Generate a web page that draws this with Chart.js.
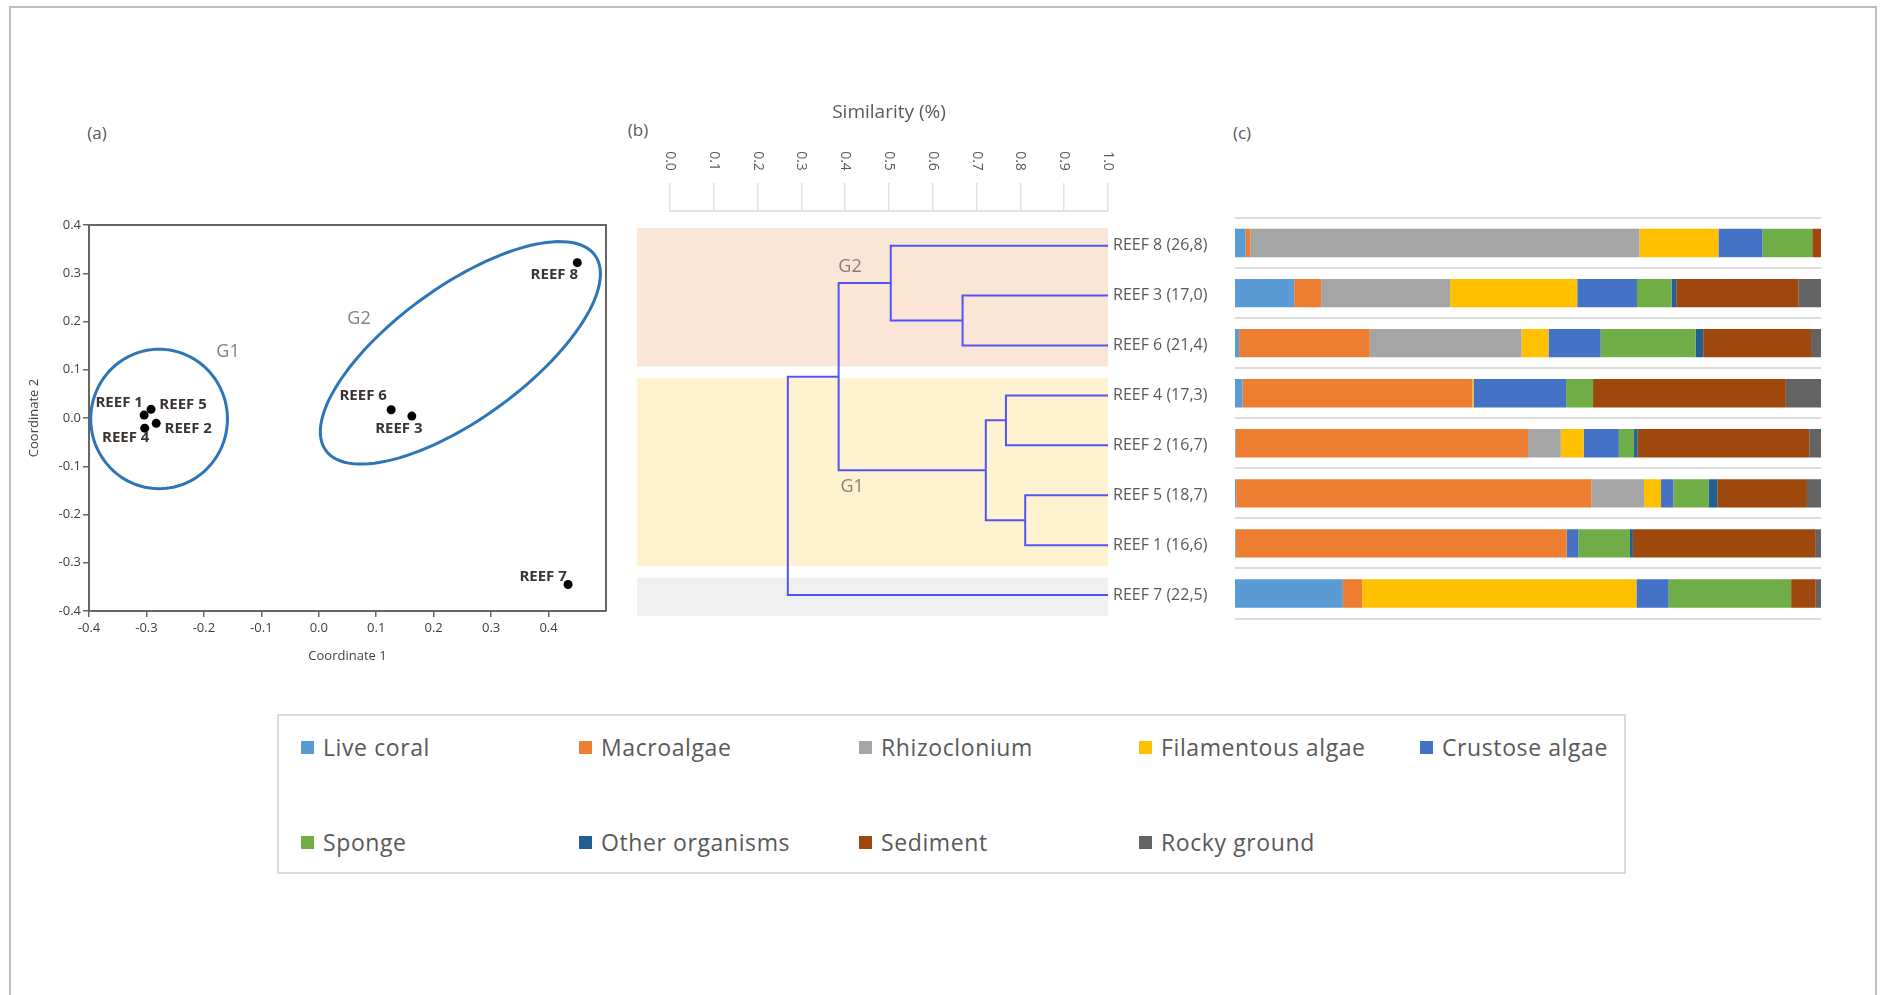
<!DOCTYPE html>
<html>
<head>
<meta charset="utf-8">
<title>Reef ordination, clustering and benthic cover</title>
<script src="https://cdn.jsdelivr.net/npm/chart.js"></script>
<style>
  html, body { margin: 0; padding: 0; background: #fff; }
  body { width: 1882px; height: 995px; position: relative; overflow: hidden; font-family: 'Open Sans', sans-serif; }
  #frame { position: absolute; left: 9px; top: 6px; width: 1864px; height: 1000px; border: 2px solid #bdbdbd; border-bottom: none; }
  canvas { position: absolute; }
  .tag { position: absolute; font-size: 17px; color: #595959; transform: translate(-50%, -50%); }
  #legend { position: absolute; left: 277px; top: 714px; width: 1345px; height: 156px; border: 2px solid #dadada; }
  .item { position: absolute; display: flex; align-items: center; font-size: 23px; letter-spacing: 0.6px; color: #595959; transform: translateY(-50%); white-space: nowrap; }
  .item i { display: inline-block; width: 13px; height: 13px; margin-right: 9px; }
</style>
</head>
<body>
<div id="frame"></div>
<div class="tag" style="left:97px; top:132px;">(a)</div>
<div class="tag" style="left:638px; top:129px;">(b)</div>
<div class="tag" style="left:1242px; top:132px;">(c)</div>

<canvas id="pcoa" width="600" height="460" style="left:20px; top:215px;"></canvas>
<canvas id="dendro" width="610" height="540" style="left:620px; top:90px;"></canvas>
<canvas id="cover" width="640" height="440" style="left:1230px; top:200px;"></canvas>
<div id="legend"></div>

<script>
Chart.defaults.font.family = "'Open Sans', sans-serif";
Chart.defaults.color = '#595959';
Chart.defaults.animation = false;

// ---- (a) PCoA ----
const reefNames = ['REEF 1', 'REEF 2', 'REEF 3', 'REEF 4', 'REEF 5', 'REEF 6', 'REEF 7', 'REEF 8'];
const coord1 = [-0.304, -0.283, 0.162, -0.303, -0.292, 0.126, 0.434, 0.450];
const coord2 = [0.006, -0.011, 0.004, -0.021, 0.018, 0.017, -0.345, 0.322];

// label offsets from each point (px)
const labelDx = [-25, 32, -13, -19, 32, -28, -25, -23];
const labelDy = [-12, 5, 13, 10, -5, -14, -8, 12];

// group ellipses: centre + two semi-axis vectors, in data units
const groupEllipses = [
  { name: 'G1', cx: -0.278, cy: -0.002, u: [0.119, 0], v: [0, 0.1445], tx: -0.158, ty: 0.137 },
  { name: 'G2', cx: 0.2465, cy: 0.135, u: [0.2342, 0.2023], v: [0.0677, -0.1107], tx: 0.070, ty: 0.205 }
];

const fmt1 = v => (Math.abs(v) < 1e-9 ? 0 : v).toFixed(1);

const ordinationDecor = {
  id: 'ordinationDecor',
  afterDatasetsDraw(chart) {
    const { ctx, chartArea: a, scales: { x, y } } = chart;
    ctx.save();
    // close the box on top and right
    ctx.strokeStyle = '#666';
    ctx.lineWidth = 2;
    ctx.beginPath();
    ctx.moveTo(a.left, a.top);
    ctx.lineTo(a.right, a.top);
    ctx.lineTo(a.right, a.bottom);
    ctx.stroke();

    ctx.strokeStyle = '#2e75b6';
    ctx.lineWidth = 3;
    groupEllipses.forEach(e => {
      ctx.beginPath();
      for (let k = 0; k <= 120; k++) {
        const t = k / 120 * Math.PI * 2;
        const px = x.getPixelForValue(e.cx + Math.cos(t) * e.u[0] + Math.sin(t) * e.v[0]);
        const py = y.getPixelForValue(e.cy + Math.cos(t) * e.u[1] + Math.sin(t) * e.v[1]);
        if (k === 0) ctx.moveTo(px, py); else ctx.lineTo(px, py);
      }
      ctx.stroke();
    });

    ctx.textAlign = 'center';
    ctx.textBaseline = 'middle';
    ctx.fillStyle = '#8b7e74';
    ctx.font = "18px 'Open Sans'";
    groupEllipses.forEach(e => {
      ctx.fillText(e.name, x.getPixelForValue(e.tx), y.getPixelForValue(e.ty));
    });

    ctx.fillStyle = '#3b3531';
    ctx.font = "bold 15px 'Open Sans'";
    reefNames.forEach((n, i) => {
      ctx.fillText(n, x.getPixelForValue(coord1[i]) + labelDx[i], y.getPixelForValue(coord2[i]) + labelDy[i]);
    });
    ctx.restore();
  }
};

new Chart(document.getElementById('pcoa'), {
  type: 'scatter',
  data: {
    datasets: [{
      data: reefNames.map((n, i) => ({ x: coord1[i], y: coord2[i] })),
      pointRadius: 4.5,
      pointHoverRadius: 4.5,
      backgroundColor: '#000',
      borderWidth: 0
    }]
  },
  options: {
    responsive: false,
    layout: { padding: { top: 10, right: 14, left: 0, bottom: 0 } },
    plugins: { legend: { display: false }, tooltip: { enabled: false } },
    scales: {
      x: {
        type: 'linear', min: -0.4, max: 0.5,
        ticks: { stepSize: 0.1, padding: 3, color: '#404040', font: { size: 13 }, callback: fmt1 },
        afterBuildTicks: s => { s.ticks = s.ticks.filter(t => t.value < 0.45); },
        afterFit: s => { s.height = 64; },
        grid: { drawOnChartArea: false, tickLength: 6, color: '#666', lineWidth: 1.5 },
        border: { color: '#666', width: 2 },
        title: { display: true, text: 'Coordinate 1', color: '#404040', font: { size: 13 }, padding: { top: 0, bottom: 11 } }
      },
      y: {
        type: 'linear', min: -0.4, max: 0.4,
        ticks: { stepSize: 0.1, padding: 2, color: '#404040', font: { size: 13 }, callback: fmt1 },
        afterFit: s => { s.width = 69; },
        grid: { drawOnChartArea: false, tickLength: 6, color: '#666', lineWidth: 1.5 },
        border: { color: '#666', width: 2 },
        title: { display: true, text: 'Coordinate 2', color: '#404040', font: { size: 13 }, padding: { top: 6, bottom: 0 } }
      }
    }
  },
  plugins: [ordinationDecor]
});

// ---- (b) cluster dendrogram ----
const leafLabels = ['REEF 8 (26,8)', 'REEF 3 (17,0)', 'REEF 6 (21,4)', 'REEF 4 (17,3)',
                    'REEF 2 (16,7)', 'REEF 5 (18,7)', 'REEF 1 (16,6)', 'REEF 7 (22,5)'];
// joins: ids 0-7 are leaves, 8+ are the clusters formed in this order
const joinA = [1, 0, 3, 5, 10, 9, 13];
const joinB = [2, 8, 4, 6, 11, 12, 7];
const joinSim = [0.668, 0.504, 0.767, 0.811, 0.721, 0.385, 0.269];

const groupBands = [
  { name: 'G2', first: 0, last: 2, color: '#fbe5d7', tx: 0.411, ty: 0.42 },
  { name: 'G1', first: 3, last: 6, color: '#fff2d0', tx: 0.416, ty: 4.83 },
  { name: '', first: 7, last: 7, color: '#f0f0f0' }
];

const nodeX = leafLabels.map(() => 1);
const nodeY = leafLabels.map((_, i) => i);
const treePts = [];
joinSim.forEach((s, m) => {
  const a = joinA[m], b = joinB[m];
  treePts.push({ x: nodeX[a], y: nodeY[a] }, { x: s, y: nodeY[a] },
               { x: s, y: nodeY[b] }, { x: nodeX[b], y: nodeY[b] }, { x: null, y: null });
  nodeX.push(s);
  nodeY.push((nodeY[a] + nodeY[b]) / 2);
});

const dendroDecor = {
  id: 'dendroDecor',
  beforeDatasetsDraw(chart) {
    const { ctx, scales: { x, y } } = chart;
    ctx.save();
    groupBands.forEach(g => {
      const x0 = x.getPixelForValue(-0.075), x1 = x.getPixelForValue(1);
      const y0 = y.getPixelForValue(g.first - 0.35), y1 = y.getPixelForValue(g.last + 0.42);
      ctx.fillStyle = g.color;
      ctx.fillRect(x0, y0, x1 - x0, y1 - y0);
    });
    ctx.restore();
  },
  afterDraw(chart) {
    const { ctx, scales: { x, y } } = chart;
    ctx.save();
    // similarity ticks, rotated to read downwards
    ctx.fillStyle = '#595959';
    ctx.font = "14px 'Open Sans'";
    ctx.textAlign = 'center';
    ctx.textBaseline = 'middle';
    x.ticks.forEach((t, i) => {
      ctx.save();
      ctx.translate(x.getPixelForTick(i), 71);
      ctx.rotate(Math.PI / 2);
      ctx.fillText(fmt1(t.value), 0, 0);
      ctx.restore();
    });
    ctx.fillStyle = '#8b7e74';
    ctx.font = "18px 'Open Sans'";
    groupBands.filter(g => g.name).forEach(g => {
      ctx.fillText(g.name, x.getPixelForValue(g.tx), y.getPixelForValue(g.ty));
    });
    ctx.restore();
  }
};

new Chart(document.getElementById('dendro'), {
  type: 'scatter',
  data: {
    datasets: [{
      data: treePts,
      showLine: true,
      spanGaps: false,
      borderColor: '#5454f5',
      borderWidth: 2,
      pointRadius: 0,
      pointHoverRadius: 0
    }]
  },
  options: {
    responsive: false,
    layout: { padding: { top: 0, right: 0, left: 50, bottom: 10 } },
    plugins: { legend: { display: false }, tooltip: { enabled: false } },
    scales: {
      x: {
        type: 'linear', position: 'top', min: 0, max: 1,
        ticks: { stepSize: 0.1, display: false },
        afterFit: s => { s.height = 121; },
        grid: { drawOnChartArea: false, tickLength: 28, color: '#e2e2e2', lineWidth: 1.5 },
        border: { color: '#e2e2e2', width: 2 },
        title: { display: true, text: 'Similarity (%)', color: '#595959', font: { size: 19 }, padding: { top: 11, bottom: 0 } }
      },
      y: {
        type: 'linear', position: 'right', min: -0.695, max: 7.5, reverse: true,
        afterBuildTicks: s => { s.ticks = leafLabels.map((_, i) => ({ value: i })); },
        afterFit: s => { s.width = 122; s.paddingTop = 0; s.paddingBottom = 0; },
        ticks: { autoSkip: false, padding: 5, color: '#595959', font: { size: 16 }, callback: v => leafLabels[v] },
        grid: { display: false, drawTicks: false },
        border: { display: false }
      }
    }
  },
  plugins: [dendroDecor]
});

// ---- (c) benthic cover (%) per reef, same order as the dendrogram ----
const reefOrder = ['REEF 8', 'REEF 3', 'REEF 6', 'REEF 4', 'REEF 2', 'REEF 5', 'REEF 1', 'REEF 7'];
const coverTypes = ['Live coral', 'Macroalgae', 'Rhizoclonium', 'Filamentous algae', 'Crustose algae',
                    'Sponge', 'Other organisms', 'Sediment', 'Rocky ground'];
const coverColors = ['#5b9bd5', '#ed7d31', '#a5a5a5', '#ffc000', '#4472c4',
                     '#70ad47', '#255e91', '#9e480e', '#636363'];
const liveCoral    = [1.8, 10.1, 0.7, 1.3, 0.1, 0.2, 0.1, 18.4];
const macroalgae   = [0.8, 4.6, 22.3, 39.2, 49.9, 60.6, 56.5, 3.3];
const rhizoclonium = [66.4, 22.0, 25.9, 0, 5.6, 9.0, 0, 0];
const filamentous  = [13.5, 21.7, 4.6, 0.2, 3.9, 2.9, 0, 46.8];
const crustose     = [7.5, 10.2, 8.9, 15.8, 6.0, 2.1, 2.0, 5.5];
const sponge       = [8.5, 5.9, 16.2, 4.6, 2.6, 6.0, 8.8, 20.9];
const otherOrg     = [0, 0.8, 1.3, 0, 0.6, 1.5, 0.5, 0];
const sediment     = [1.5, 20.9, 18.4, 32.9, 29.3, 15.3, 31.1, 4.2];
const rockyGround  = [0, 3.8, 1.7, 6.0, 2.0, 2.4, 1.0, 0.9];
const coverSeries = [liveCoral, macroalgae, rhizoclonium, filamentous, crustose, sponge, otherOrg, sediment, rockyGround];

new Chart(document.getElementById('cover'), {
  type: 'bar',
  data: {
    labels: reefOrder,
    datasets: coverTypes.map((name, i) => ({
      label: name,
      data: coverSeries[i],
      backgroundColor: coverColors[i],
      borderWidth: 0,
      barPercentage: 0.566,
      categoryPercentage: 1
    }))
  },
  options: {
    indexAxis: 'y',
    responsive: false,
    layout: { padding: { top: 18, right: 49, left: 5, bottom: 21.5 } },
    plugins: { legend: { display: false }, tooltip: { enabled: false } },
    scales: {
      x: { stacked: true, min: 0, max: 100, display: false },
      y: {
        stacked: true,
        afterFit: s => { s.width = 0; },
        ticks: { display: false },
        grid: { offset: true, drawTicks: false, color: '#dcdcdc', lineWidth: 2 },
        border: { display: false }
      }
    }
  }
});

// shared legend under the panels
const legend = document.getElementById('legend');
const legendCols = [22, 300, 580, 860, 1141];
const legendRows = [31, 126];
coverTypes.forEach((name, i) => {
  const el = document.createElement('div');
  el.className = 'item';
  el.style.left = legendCols[i % 5] + 'px';
  el.style.top = legendRows[Math.floor(i / 5)] + 'px';
  el.innerHTML = '<i style="background:' + coverColors[i] + '"></i>' + name;
  legend.appendChild(el);
});
</script>
</body>
</html>
